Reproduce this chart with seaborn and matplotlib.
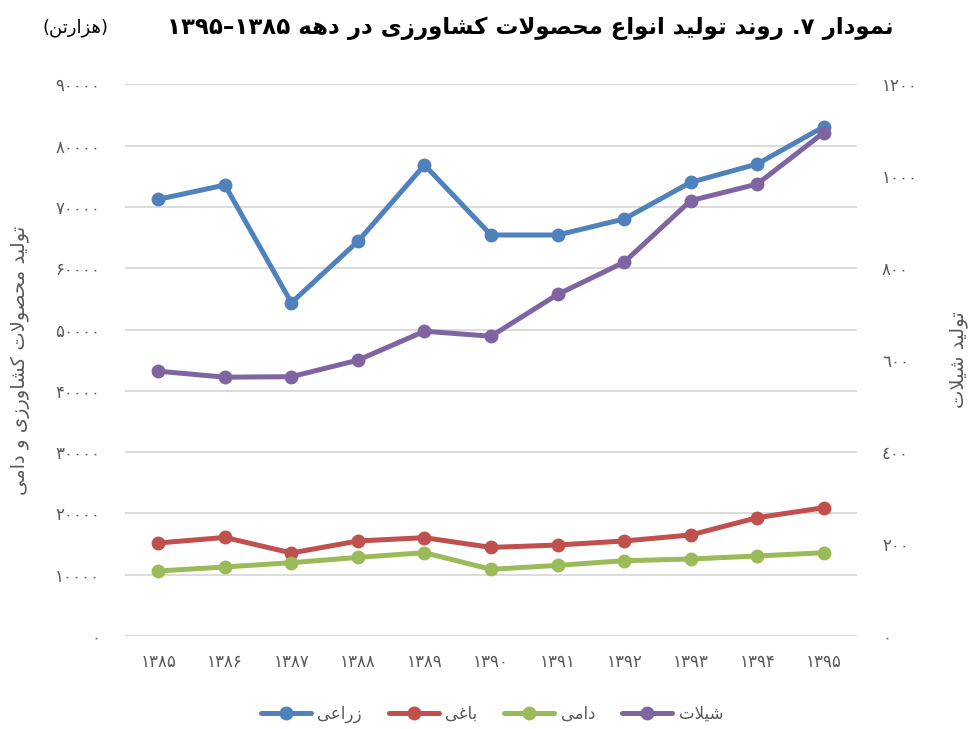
import numpy as np
import pandas as pd
import matplotlib
matplotlib.use("Agg")
import matplotlib.pyplot as plt
from matplotlib.lines import Line2D
import seaborn as sns

# ── Data ───────────────────────────────────────────────────────────────────────
years = ["۱۳۸۵", "۱۳۸۶", "۱۳۸۷", "۱۳۸۸", "۱۳۸۹", "۱۳۹۰",
         "۱۳۹۱", "۱۳۹۲", "۱۳۹۳", "۱۳۹۴", "۱۳۹۵"]
zeraee = [71240, 73570, 54370, 64390, 76840, 65420, 65420, 68030, 74010, 77000, 83080]
baghi  = [15170, 16080, 13540, 15500, 16040, 14450, 14840, 15500, 16480, 19300, 20930]
dami   = [10600, 11260, 11960, 12820, 13590, 10870, 11520, 12280, 12560, 13050, 13590]
shilat = [576, 563, 564, 600, 663, 652, 743, 813, 947, 983, 1095]

left_ticks  = [0, 10000, 20000, 30000, 40000, 50000, 60000, 70000, 80000, 90000]
left_labels = ["۰", "۱۰۰۰۰", "۲۰۰۰۰", "۳۰۰۰۰", "۴۰۰۰۰", "۵۰۰۰۰",
               "۶۰۰۰۰", "۷۰۰۰۰", "۸۰۰۰۰", "۹۰۰۰۰"]
right_ticks  = [0, 200, 400, 600, 800, 1000, 1200]
right_labels = ["٠", "٢٠٠", "٤٠٠", "٦٠٠", "٨٠٠", "١٠٠٠", "١٢٠٠"]

names  = ["زراعی", "باغی", "دامی", "شیلات"]
colors = ["#4F81BD", "#C0504D", "#9BBB59", "#8064A2"]

title_txt  = "نمودار ۷. روند تولید انواع محصولات کشاورزی در دهه ۱۳۸۵–۱۳۹۵"
unit_txt   = "(هزارتن)"
ylabel_l   = "تولید محصولات کشاورزی و دامی"
ylabel_r   = "تولید شیلات"

# ── Minimal Persian shaping (matplotlib has no RTL / joining support) ─────────
# isolated, final, initial, medial
FORMS = {
    "ا": ("\uFE8D", "\uFE8E", None, None),
    "آ": ("\uFE81", "\uFE82", None, None),
    "ب": ("\uFE8F", "\uFE90", "\uFE91", "\uFE92"),
    "پ": ("\uFB56", "\uFB57", "\uFB58", "\uFB59"),
    "ت": ("\uFE95", "\uFE96", "\uFE97", "\uFE98"),
    "ج": ("\uFE9D", "\uFE9E", "\uFE9F", "\uFEA0"),
    "ح": ("\uFEA1", "\uFEA2", "\uFEA3", "\uFEA4"),
    "خ": ("\uFEA5", "\uFEA6", "\uFEA7", "\uFEA8"),
    "د": ("\uFEA9", "\uFEAA", None, None),
    "ر": ("\uFEAD", "\uFEAE", None, None),
    "ز": ("\uFEAF", "\uFEB0", None, None),
    "س": ("\uFEB1", "\uFEB2", "\uFEB3", "\uFEB4"),
    "ش": ("\uFEB5", "\uFEB6", "\uFEB7", "\uFEB8"),
    "ص": ("\uFEB9", "\uFEBA", "\uFEBB", "\uFEBC"),
    "ع": ("\uFEC9", "\uFECA", "\uFECB", "\uFECC"),
    "غ": ("\uFECD", "\uFECE", "\uFECF", "\uFED0"),
    "ف": ("\uFED1", "\uFED2", "\uFED3", "\uFED4"),
    "ق": ("\uFED5", "\uFED6", "\uFED7", "\uFED8"),
    "ک": ("\uFB8E", "\uFB8F", "\uFB90", "\uFB91"),
    "گ": ("\uFB92", "\uFB93", "\uFB94", "\uFB95"),
    "ل": ("\uFEDD", "\uFEDE", "\uFEDF", "\uFEE0"),
    "م": ("\uFEE1", "\uFEE2", "\uFEE3", "\uFEE4"),
    "ن": ("\uFEE5", "\uFEE6", "\uFEE7", "\uFEE8"),
    "ه": ("\uFEE9", "\uFEEA", "\uFEEB", "\uFEEC"),
    "و": ("\uFEED", "\uFEEE", None, None),
    "ی": ("\uFBFC", "\uFBFD", "\uFBFE", "\uFBFF"),
}


def shape_word(w):
    out = []
    i = 0
    while i < len(w):
        c = w[i]
        prev = w[i - 1] if i > 0 else None
        joins_prev = prev in FORMS and FORMS[prev][2] is not None
        if c == "ل" and i + 1 < len(w) and w[i + 1] == "ا":
            out.append("\uFEFC" if joins_prev else "\uFEFB")
            i += 2
            continue
        f = FORMS.get(c)
        if f is None:
            out.append(c)
            i += 1
            continue
        nxt = w[i + 1] if i + 1 < len(w) else None
        joins_next = f[2] is not None and nxt in FORMS
        if joins_prev and joins_next:
            out.append(f[3])
        elif joins_prev:
            out.append(f[1])
        elif joins_next:
            out.append(f[2])
        else:
            out.append(f[0])
        i += 1
    return "".join(reversed(out))


def rtl(text):
    vis = []
    for tok in reversed(text.split(" ")):
        if any(ch in FORMS for ch in tok):
            if tok.startswith("(") and tok.endswith(")"):
                vis.append("(" + shape_word(tok[1:-1]) + ")")
            else:
                vis.append(shape_word(tok))
        elif "–" in tok:
            vis.append("–".join(reversed(tok.split("–"))))
        elif tok.endswith("."):
            vis.append("." + tok[:-1])
        else:
            vis.append(tok)
    return " ".join(vis)


# ── Plot ───────────────────────────────────────────────────────────────────────
sns.set_theme(style="white")
plt.rcParams["font.family"] = ["DejaVu Sans"]

x = np.arange(len(years))
df = pd.DataFrame({
    "x": np.tile(x, 3),
    "value": zeraee + baghi + dami,
    "series": np.repeat(names[:3], len(years)),
})

fig = plt.figure(figsize=(9.73, 7.29), dpi=100)
ax = fig.add_axes([0.1285, 0.1276, 0.7523, 0.7567])

sns.lineplot(data=df, x="x", y="value", hue="series", hue_order=names[:3],
             palette=colors[:3], marker="o", markersize=10, markeredgewidth=0,
             linewidth=3.6, legend=False, ax=ax, zorder=3)

ax2 = ax.twinx()
sns.lineplot(x=x, y=shilat, color=colors[3], marker="o", markersize=10,
             markeredgewidth=0, linewidth=3.6, ax=ax2, zorder=3)

ax.set_xlim(-0.5, len(years) - 0.5)
ax.set_ylim(0, 90000)
ax2.set_ylim(0, 1200)

ax.set_xticks(x)
ax.set_xticklabels(years)
ax.set_yticks(left_ticks)
ax.set_yticklabels(left_labels)
ax2.set_yticks(right_ticks)
ax2.set_yticklabels(right_labels)

ax.yaxis.grid(True, color="#d9d9d9", linewidth=1.3)
ax.set_axisbelow(True)
for a in (ax, ax2):
    for spine in a.spines.values():
        spine.set_visible(False)
ax.tick_params(axis="both", length=0, labelsize=12, colors="#595959")
ax.tick_params(axis="y", pad=18)
ax.tick_params(axis="x", pad=12)
ax2.tick_params(axis="y", length=0, labelsize=12, colors="#595959", pad=18)

ax.set_xlabel("")
ax.set_ylabel(rtl(ylabel_l), fontsize=14, color="#595959", labelpad=18)
ax2.set_ylabel(rtl(ylabel_r), fontsize=14, color="#595959", rotation=90, labelpad=22)

fig.text(530 / 973, 1 - 28 / 729, rtl(title_txt), ha="center", va="center",
         fontsize=16.5, fontweight="bold", color="black")
fig.text(75 / 973, 1 - 28 / 729, rtl(unit_txt), ha="center", va="center",
         fontsize=13, color="black")

handles = [Line2D([0], [0], color=c, linewidth=3.6, marker="o", markersize=10,
                  markeredgewidth=0) for c in colors]
fig.legend(handles, [rtl(n) for n in names], loc="center",
           bbox_to_anchor=(492 / 973, 1 - 714 / 729), ncol=4, frameon=False,
           fontsize=12, handlelength=3.0, handletextpad=0.4, columnspacing=1.6,
           labelcolor="#595959")

fig.savefig("out.png", dpi=100)
